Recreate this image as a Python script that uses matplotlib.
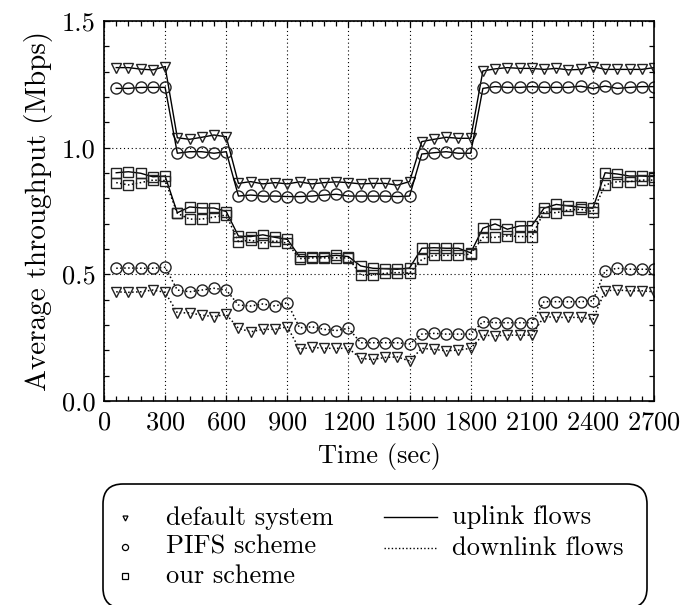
import numpy as np
import matplotlib
matplotlib.use('Agg')
import matplotlib.pyplot as plt
from matplotlib.lines import Line2D
from matplotlib.patches import FancyBboxPatch
from matplotlib.ticker import MultipleLocator, FormatStrFormatter

plt.rcParams['font.family'] = 'serif'
plt.rcParams['font.serif'] = ['cmr10']
plt.rcParams['mathtext.fontset'] = 'cm'
plt.rcParams['axes.formatter.use_mathtext'] = True

# ========== data (Mbps, sampled every 60 s) ==========
times = np.arange(60, 2701, 60)

default_up = [1.316, 1.316, 1.310, 1.307, 1.320,
              1.039, 1.033, 1.041, 1.050, 1.043,
              0.859, 0.866, 0.857, 0.862, 0.857,
              0.865, 0.857, 0.862, 0.865, 0.862,
              0.857, 0.859, 0.859, 0.852, 0.866,
              1.024, 1.033, 1.041, 1.037, 1.037,
              1.303, 1.311, 1.316, 1.313, 1.313,
              1.309, 1.313, 1.307, 1.309, 1.320,
              1.309, 1.309, 1.309, 1.309, 1.316]

pifs_up = [1.234, 1.234, 1.238, 1.238, 1.238,
           0.978, 0.984, 0.984, 0.978, 0.984,
           0.809, 0.813, 0.809, 0.809, 0.807,
           0.807, 0.809, 0.813, 0.816, 0.809,
           0.809, 0.809, 0.809, 0.807, 0.809,
           0.975, 0.980, 0.984, 0.978, 0.978,
           1.234, 1.241, 1.238, 1.238, 1.241,
           1.238, 1.238, 1.238, 1.243, 1.234,
           1.243, 1.234, 1.238, 1.241, 1.241]

ours_up = [0.901, 0.905, 0.899, 0.885, 0.888,
           0.743, 0.766, 0.762, 0.762, 0.748,
           0.651, 0.649, 0.656, 0.646, 0.638,
           0.570, 0.570, 0.570, 0.575, 0.570,
           0.533, 0.524, 0.522, 0.520, 0.525,
           0.603, 0.605, 0.603, 0.603, 0.585,
           0.682, 0.699, 0.678, 0.691, 0.692,
           0.761, 0.776, 0.770, 0.765, 0.761,
           0.901, 0.896, 0.888, 0.888, 0.886]

default_down = [0.431, 0.429, 0.431, 0.438, 0.429,
                0.348, 0.348, 0.339, 0.333, 0.342,
                0.287, 0.273, 0.283, 0.283, 0.293,
                0.204, 0.212, 0.208, 0.208, 0.208,
                0.168, 0.164, 0.172, 0.174, 0.158,
                0.208, 0.204, 0.198, 0.201, 0.208,
                0.260, 0.257, 0.260, 0.260, 0.260,
                0.333, 0.330, 0.330, 0.330, 0.322,
                0.435, 0.438, 0.435, 0.435, 0.431]

pifs_down = [0.524, 0.525, 0.524, 0.524, 0.528,
             0.438, 0.431, 0.438, 0.445, 0.438,
             0.379, 0.375, 0.383, 0.375, 0.388,
             0.289, 0.293, 0.283, 0.278, 0.287,
             0.230, 0.230, 0.230, 0.230, 0.225,
             0.264, 0.267, 0.264, 0.264, 0.264,
             0.313, 0.309, 0.309, 0.309, 0.309,
             0.392, 0.392, 0.392, 0.392, 0.396,
             0.514, 0.524, 0.520, 0.520, 0.520]

ours_down = [0.862, 0.853, 0.862, 0.872, 0.870,
             0.741, 0.718, 0.718, 0.726, 0.734,
             0.629, 0.635, 0.623, 0.632, 0.623,
             0.562, 0.565, 0.565, 0.565, 0.565,
             0.497, 0.497, 0.504, 0.507, 0.505,
             0.559, 0.575, 0.575, 0.575, 0.580,
             0.646, 0.646, 0.652, 0.649, 0.649,
             0.747, 0.743, 0.754, 0.757, 0.747,
             0.853, 0.866, 0.866, 0.872, 0.872]

schemes = ['default system', 'PIFS scheme', 'our scheme']
markers = {'default system': ('v', 6.5), 'PIFS scheme': ('o', 8), 'our scheme': ('s', 7)}

FS = 19

# ========== plot ==========
fig = plt.figure(figsize=(6.83, 6.05), dpi=100)
ax = fig.add_axes([104 / 683, (605 - 401) / 605, 550 / 683, 380 / 605])

dotted = (0, (1, 1.6))
for name, up, down in [('default system', default_up, default_down),
                       ('PIFS scheme', pifs_up, pifs_down),
                       ('our scheme', ours_up, ours_down)]:
    m, ms = markers[name]
    ax.plot(times, up, color='black', lw=1.0, ls='-', marker=m, ms=ms,
            mfc='none', mec='#222222', mew=1.0)
    ax.plot(times, down, color='black', lw=1.1, ls=dotted, marker=m, ms=ms,
            mfc='none', mec='#222222', mew=1.0)

ax.set_xlim(0, 2700)
ax.set_ylim(0, 1.5)
ax.xaxis.set_major_locator(MultipleLocator(300))
ax.xaxis.set_minor_locator(MultipleLocator(60))
ax.yaxis.set_major_locator(MultipleLocator(0.5))
ax.yaxis.set_minor_locator(MultipleLocator(0.1))
ax.yaxis.set_major_formatter(FormatStrFormatter('%.1f'))
ax.tick_params(which='both', direction='in', top=True, right=True,
               labelsize=FS, width=0.9)
ax.tick_params(which='major', length=4, pad=6)
ax.tick_params(which='minor', length=3.5)
ax.tick_params(axis='x', which='major', pad=7)
ax.grid(True, which='major', color='black', ls=(0, (1, 2.5)), lw=0.8)
for sp in ax.spines.values():
    sp.set_linewidth(1.2)

ax.set_xlabel('Time (sec)', fontsize=FS, labelpad=6)
ax.set_ylabel('Average throughput (Mbps)', fontsize=21, labelpad=6)

# ========== legend box (pixel layout, drawn in inches) ==========
H = 6.05
def px(x, y):
    return x / 100, H - y / 100

box_x, box_y = px(103, 608)
box = FancyBboxPatch((box_x, box_y), (647 - 103) / 100, (608 - 484) / 100,
                     boxstyle='round,pad=0,rounding_size=0.2',
                     transform=fig.dpi_scale_trans, fc='white', ec='black',
                     lw=1.2, clip_on=False)
fig.add_artist(box)

rows = [518, 547, 576]
for name, ry in zip(schemes, rows):
    m, ms = markers[name]
    mx, my = px(125, ry)
    fig.add_artist(Line2D([mx], [my], marker=m, ms=ms * 0.55, mfc='none',
                          mec='black', mew=0.9, ls='none',
                          transform=fig.dpi_scale_trans))
    tx, ty = px(166, ry)
    fig.text(tx, ty, name, fontsize=FS, va='center', ha='left',
             transform=fig.dpi_scale_trans)

for label, ls, ry in [('uplink flows', '-', 517), ('downlink flows', dotted, 548)]:
    x0, y0 = px(384, ry)
    x1, _ = px(437, ry)
    fig.add_artist(Line2D([x0, x1], [y0, y0], color='black', lw=1.0, ls=ls,
                          transform=fig.dpi_scale_trans))
    tx, ty = px(452, ry)
    fig.text(tx, ty, label, fontsize=FS, va='center', ha='left',
             transform=fig.dpi_scale_trans)

fig.savefig('out.png', dpi=100)
plt.close(fig)
